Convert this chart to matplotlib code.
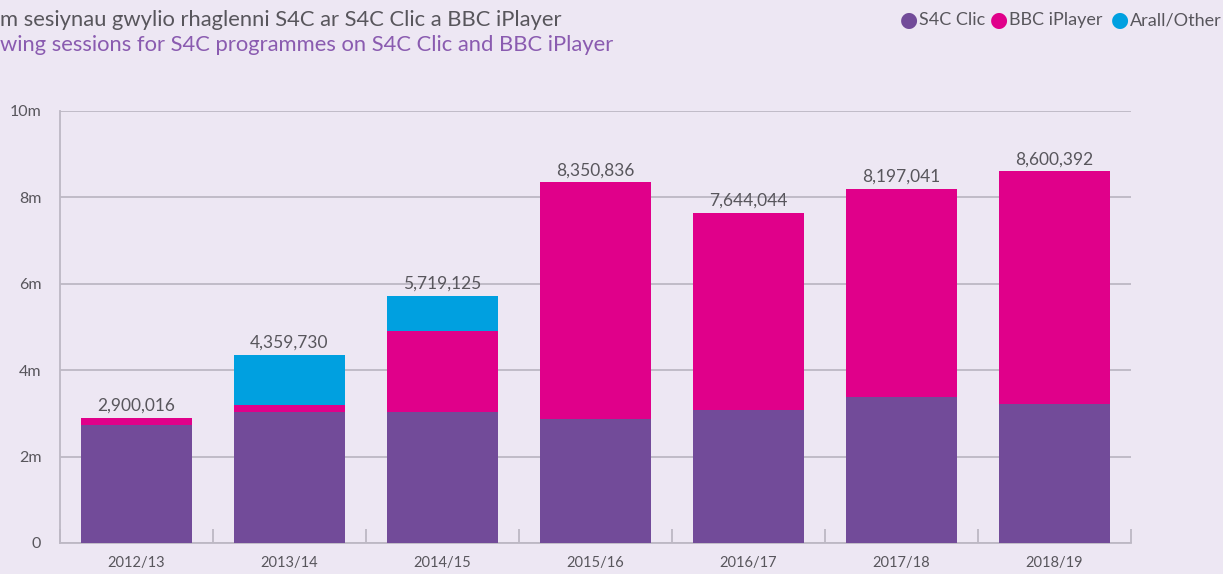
import matplotlib
matplotlib.use("Agg")
import matplotlib.pyplot as plt
import numpy as np

plt.rcParams['font.family'] = ['Lato', 'DejaVu Sans']

# data (millions)
years = ['2012/13', '2013/14', '2014/15', '2015/16', '2016/17', '2017/18', '2018/19']
s4c_clic = [2.73, 3.04, 3.03, 2.87, 3.08, 3.38, 3.22]
bbc_iplayer = [0.17, 0.16, 1.87, 5.481, 4.564, 4.817, 5.380]
other = [0.0, 1.16, 0.819, 0.0, 0.0, 0.0, 0.0]
totals = ['2,900,016', '4,359,730', '5,719,125', '8,350,836', '7,644,044', '8,197,041', '8,600,392']
total_vals = [2.900016, 4.359730, 5.719125, 8.350836, 7.644044, 8.197041, 8.600392]

bg = '#ede7f3'
purple = '#724b99'
pink = '#e0008a'
blue = '#00a0e0'
grey_txt = '#58565c'
grid_c = '#bdb8c4'

fig = plt.figure(figsize=(12.23, 5.74), dpi=100)
fig.patch.set_facecolor(bg)
ax = fig.add_axes([60/1223, 31/574, 1071/1223, 432/574])
ax.set_facecolor(bg)

x = np.arange(len(years))
w = 0.73
ax.bar(x, s4c_clic, w, color=purple, zorder=3)
ax.bar(x, bbc_iplayer, w, bottom=s4c_clic, color=pink, zorder=3)
bot2 = np.array(s4c_clic) + np.array(bbc_iplayer)
ax.bar(x, other, w, bottom=bot2, color=blue, zorder=3)

for i in range(len(years)):
    ax.text(x[i], total_vals[i] + 0.09, totals[i], ha='center', va='bottom',
            fontsize=12.5, color=grey_txt)

ax.set_xlim(-0.5, 6.5)
ax.set_ylim(0, 10)
ax.set_yticks([0, 2, 4, 6, 8, 10])
ax.set_yticklabels(['0', '2m', '4m', '6m', '8m', '10m'])
ax.yaxis.grid(True, color=grid_c, linewidth=1.3, zorder=0)
ax.tick_params(axis='y', length=0, pad=13.5, labelsize=11.5, labelcolor=grey_txt)
ax.set_xticks(x)
ax.set_xticklabels(years)
ax.tick_params(axis='x', length=0, pad=9, labelsize=10.5, labelcolor=grey_txt)
ax.set_xticks(np.arange(-0.5, 7, 1), minor=True)
ax.tick_params(axis='x', which='minor', direction='in', length=10, color=grid_c, width=1.3)
for s in ['top', 'right']:
    ax.spines[s].set_visible(False)
for s in ['left', 'bottom']:
    ax.spines[s].set_color(grid_c)
    ax.spines[s].set_linewidth(1.3)

# title (cut at the left edge as in the original)
fig.text(0, 1 - 20/574, 'm sesiynau gwylio rhaglenni S4C ar S4C Clic a BBC iPlayer',
         fontsize=15.8, color=grey_txt, va='center', ha='left')
fig.text(0, 1 - 45/574, 'wing sessions for S4C programmes on S4C Clic and BBC iPlayer',
         fontsize=15.8, color='#8a5bb0', va='center', ha='left')

# legend
leg = [('S4C Clic', purple, 909), ('BBC iPlayer', pink, 999), ('Arall/Other', blue, 1120)]
for name, c, px in leg:
    fig.text(px/1223, 1 - 20/574, '\u25cf', color=c, fontsize=15, va='center', ha='center',
             family='DejaVu Sans')
    fig.text((px + 10)/1223, 1 - 20/574, name, color=grey_txt, fontsize=13, va='center', ha='left')

fig.savefig('out.png', dpi=100, facecolor=bg)
